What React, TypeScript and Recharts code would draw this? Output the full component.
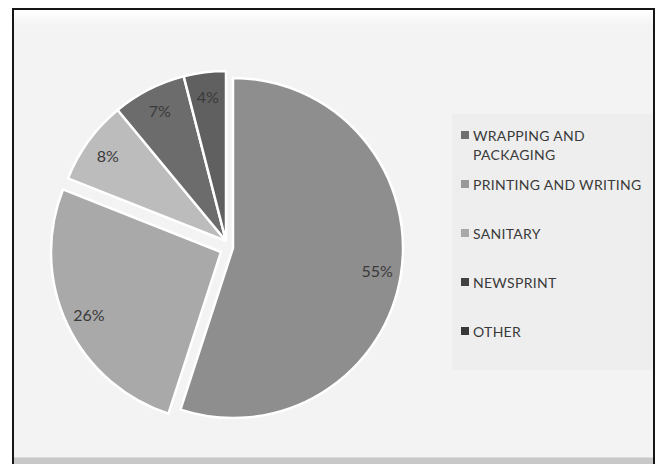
import React from "react";
import { PieChart, Pie, Cell } from "recharts";

const categories = [
  "WRAPPING AND PACKAGING",
  "PRINTING AND WRITING",
  "SANITARY",
  "NEWSPRINT",
  "OTHER",
];
const shares = [55, 26, 8, 7, 4];

const SLICE_COLORS = ["#8e8e8e", "#a9a9a9", "#bcbcbc", "#6c6c6c", "#606060"];
const LEGEND_COLORS = ["#6f6f6f", "#999999", "#a8a8a8", "#404040", "#383838"];

const data = categories.map((name, i) => ({ name, value: shares[i] }));

// which slices each (exploded) pie layer draws, and where its centre sits
const layers = [
  { idx: [2, 3, 4], cx: 207, cy: 226 },
  { idx: [0], cx: 214, cy: 233 },
  { idx: [1], cx: 202, cy: 237 },
];

const RADIAN = Math.PI / 180;
const R = 170;

const makeLabel = (owned: number[]) => (props: any) => {
  const { cx, cy, midAngle, index, value } = props;
  if (!owned.includes(index)) return null;
  const r = 146;
  const x = cx + r * Math.cos(-midAngle * RADIAN);
  const y = cy + r * Math.sin(-midAngle * RADIAN);
  return (
    <text
      x={x}
      y={y}
      fill="#3a3a3a"
      fontSize={16}
      fontFamily="Lato, sans-serif"
      textAnchor="middle"
      dominantBaseline="central"
    >
      {`${value}%`}
    </text>
  );
};

const App = () => {
  return (
    <div
      style={{
        position: "absolute",
        left: 12,
        top: 8,
        width: 639,
        height: 456,
        border: "2px solid #161616",
        borderBottom: "none",
        background: "#f3f3f3",
        overflow: "hidden",
        fontFamily: "Lato, sans-serif",
      }}
    >
      <div
        style={{
          position: "absolute",
          left: 0,
          top: 0,
          width: "100%",
          height: 16,
          background: "linear-gradient(#ffffff, #f3f3f3)",
        }}
      />
      <div
        style={{
          position: "absolute",
          left: 0,
          bottom: 0,
          width: "100%",
          height: 8,
          background: "#c8c8c8",
          borderTop: "1px solid #dcdcdc",
        }}
      />
      <div style={{ position: "absolute", left: 0, top: 0 }}>
        <PieChart width={639} height={445}>
          {layers.map((layer, li) => (
            <Pie
              key={li}
              data={data}
              dataKey="value"
              nameKey="name"
              cx={layer.cx}
              cy={layer.cy}
              outerRadius={R}
              startAngle={90}
              endAngle={-270}
              labelLine={false}
              label={makeLabel(layer.idx)}
              isAnimationActive={false}
              legendType="none"
            >
              {data.map((entry, i) => (
                <Cell
                  key={`cell-${i}`}
                  fill={layer.idx.includes(i) ? SLICE_COLORS[i] : "none"}
                  stroke={layer.idx.includes(i) ? "#ffffff" : "none"}
                  strokeWidth={layer.idx.includes(i) ? 2.5 : 0}
                />
              ))}
            </Pie>
          ))}
        </PieChart>
      </div>
      <div
        style={{
          position: "absolute",
          left: 438,
          top: 104,
          width: 201,
          height: 256,
          background: "#eeeeee",
        }}
      >
        {categories.map((name, i) => (
          <div
            key={name}
            style={{
              position: "absolute",
              left: 9,
              top: 12 + i * 49,
              display: "flex",
              alignItems: "flex-start",
              color: "#3a3a3a",
              fontSize: 14,
              lineHeight: "19px",
              letterSpacing: 0.3,
            }}
          >
            <span
              style={{
                display: "inline-block",
                width: 8,
                height: 8,
                marginTop: 5,
                marginRight: 4,
                background: LEGEND_COLORS[i],
              }}
            />
            <span style={{ width: 178 }}>{name}</span>
          </div>
        ))}
      </div>
    </div>
  );
};

export default App;
